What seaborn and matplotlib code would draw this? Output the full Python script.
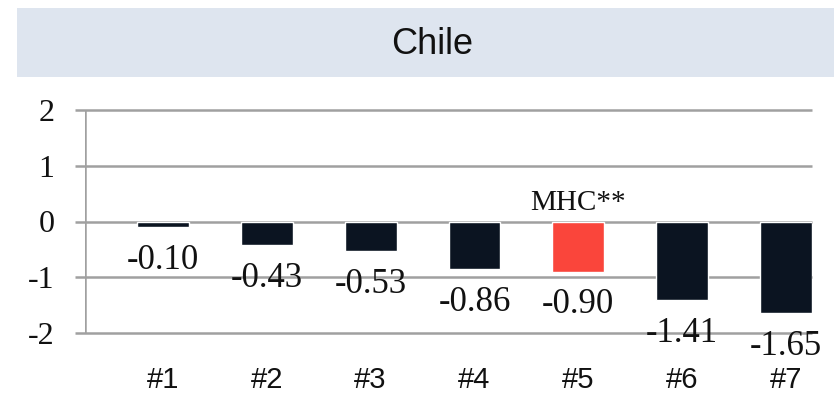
import matplotlib
matplotlib.use("Agg")
import matplotlib.pyplot as plt
import seaborn as sns
import pandas as pd
from matplotlib.patches import Rectangle

# Data
categories = ["#1", "#2", "#3", "#4", "#5", "#6", "#7"]
values = [-0.10, -0.43, -0.53, -0.86, -0.90, -1.41, -1.65]
highlight = "#5"
highlight_label = "MHC**"
title = "Chile"
y_ticks = [2, 1, 0, -1, -2]

dark = "#0b1421"
red = "#fa453b"
grid_col = "#a0a0a0"

df = pd.DataFrame({"cat": categories, "val": values})
palette = {c: (red if c == highlight else dark) for c in categories}

sns.set_theme(style="white")
fig = plt.figure(figsize=(8.34, 3.95), dpi=100)

# Title band
fig.patches.append(Rectangle((17 / 834, 1 - 77 / 395), 1 - 17 / 834, 69 / 395,
                             transform=fig.transFigure, facecolor="#dee5ef",
                             edgecolor="none", zorder=0))
fig.text(0.518, 1 - 44 / 395, title, ha="center", va="center",
         fontsize=26, family="Liberation Sans", color="#111111")

ax = fig.add_axes([85 / 834, 62 / 395, (812 - 85) / 834, (333 - 110) / 395])
sns.barplot(data=df, x="cat", y="val", hue="cat", palette=palette,
            width=0.5, legend=False, ax=ax, saturation=1, zorder=3)

ax.set_xlim(-0.75, 6.25)
ax.set_ylim(-2, 2)
ax.set_yticks(y_ticks)
ax.set_yticklabels([str(t) for t in y_ticks], family="Liberation Serif",
                   fontsize=23, color="#111111")
for t in y_ticks:
    ax.plot([-0.85, 6.25], [t, t], color=grid_col, lw=1.8, zorder=1,
            clip_on=False, solid_capstyle="butt")
ax.axvline(-0.75, color=grid_col, lw=1.8, zorder=2)
for s in ax.spines.values():
    s.set_visible(False)
ax.tick_params(axis="y", length=0, pad=22)
ax.tick_params(axis="x", length=0, pad=24)
ax.set_xticks(range(len(categories)))
ax.set_xticklabels(categories, family="Liberation Sans", fontsize=21,
                   color="#111111")
ax.set_xlabel("")
ax.set_ylabel("")
ax.set_facecolor("none")

for i, (c, v) in enumerate(zip(categories, values)):
    ax.annotate(f"{v:.2f}", (i, v), xytext=(0, -12), textcoords="offset points",
                ha="center", va="top", family="Liberation Serif", fontsize=25,
                color="#111111", zorder=4)
    if c == highlight:
        ax.annotate(highlight_label, (i, 0), xytext=(0, 4),
                    textcoords="offset points", ha="center", va="bottom",
                    family="Liberation Serif", fontsize=21, color="#111111")

fig.savefig("out.png", dpi=100)
